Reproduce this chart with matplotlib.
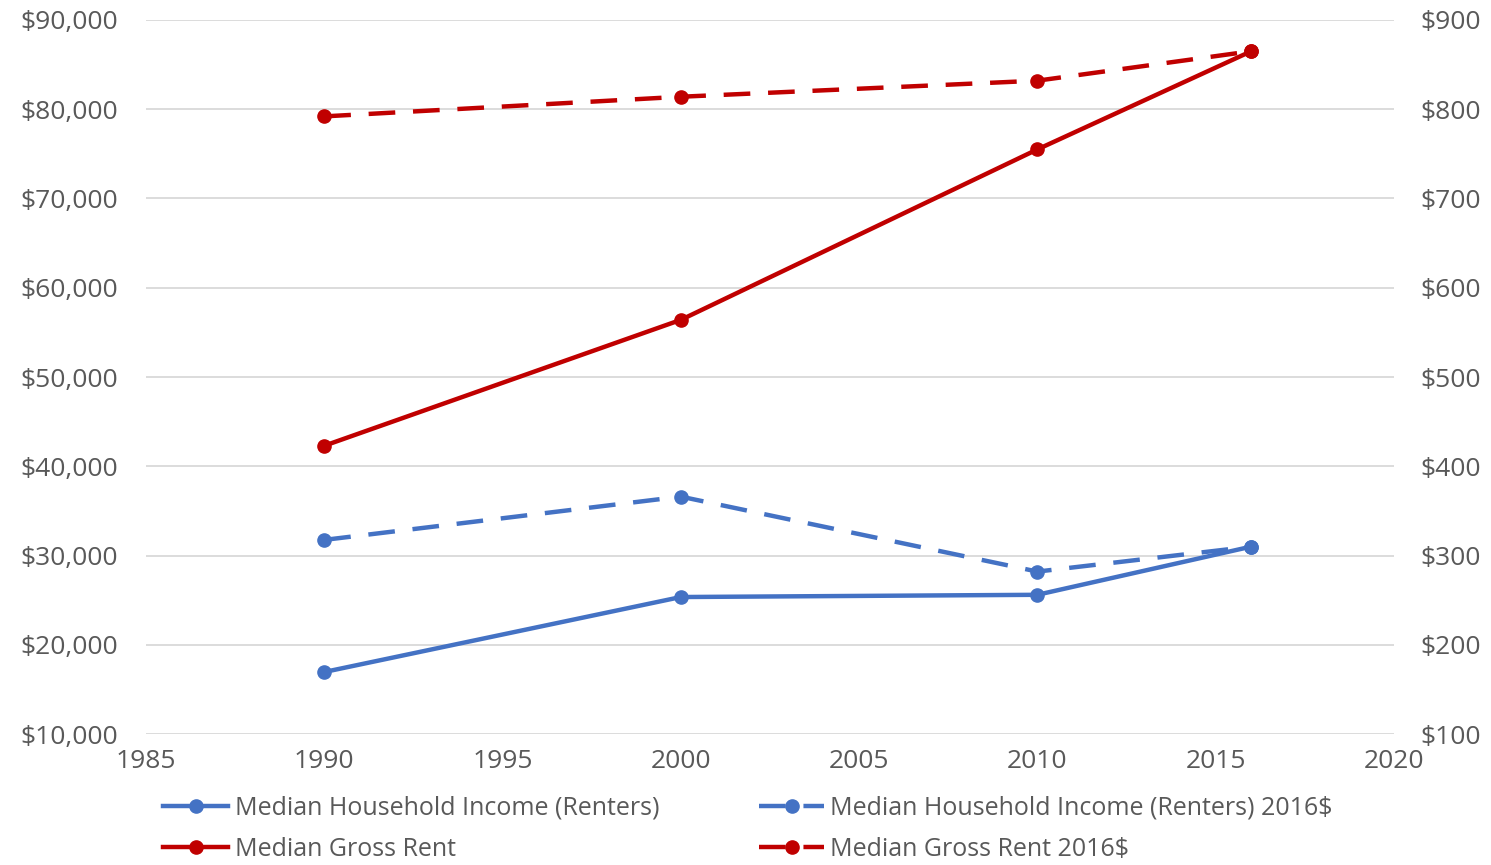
import matplotlib.pyplot as plt
from matplotlib.ticker import FuncFormatter

years = [1990, 2000, 2010, 2016]
income = [16950, 25350, 25600, 31000]
income_2016 = [31750, 36600, 28200, 31000]
rent = [423, 564, 755, 865]
rent_2016 = [792, 814, 832, 865]

blue = '#4472C4'
red = '#C00000'
grey = '#595959'

plt.rcParams['font.family'] = ['Open Sans', 'DejaVu Sans']

fig = plt.figure(figsize=(14.91, 8.65), dpi=100)
ax = fig.add_axes([0.0979, 0.1514, 0.837, 0.8255])
ax2 = ax.twinx()

l1, = ax.plot(years, income, color=blue, lw=3.2, marker='o', ms=9.5,
              label='Median Household Income (Renters)')
l2, = ax.plot(years, income_2016, color=blue, lw=3.2, marker='o', ms=9.5,
              dashes=(6, 4), label='Median Household Income (Renters) 2016$')
l3, = ax2.plot(years, rent, color=red, lw=3.2, marker='o', ms=9.5,
               label='Median Gross Rent')
l4, = ax2.plot(years, rent_2016, color=red, lw=3.2, marker='o', ms=9.5,
               dashes=(6, 4), label='Median Gross Rent 2016$')

ax.set_xlim(1985, 2020)
ax.set_ylim(10000, 90000)
ax2.set_ylim(100, 900)
ax.set_xticks(range(1985, 2021, 5))
ax.set_yticks(range(10000, 90001, 10000))
ax2.set_yticks(range(100, 901, 100))
ax.yaxis.set_major_formatter(FuncFormatter(lambda v, p: f'${v:,.0f}'))
ax2.yaxis.set_major_formatter(FuncFormatter(lambda v, p: f'${v:,.0f}'))

ax.grid(axis='y', color='#d9d9d9', lw=1.3)
ax.set_axisbelow(True)
for a in (ax, ax2):
    for s in a.spines.values():
        s.set_visible(False)
    a.tick_params(length=0, labelsize=19, colors=grey)
ax.tick_params(axis='y', pad=20)
ax2.tick_params(axis='y', pad=19)
ax.tick_params(axis='x', pad=11)

fig.legend(handles=[l1, l3, l2, l4], ncol=2, loc='lower left',
           bbox_to_anchor=(0.0945, -0.022), frameon=False, fontsize=18,
           labelcolor=grey, handlelength=2.6, handletextpad=0.25,
           columnspacing=4.0, labelspacing=0.65)

fig.savefig('out.png')
